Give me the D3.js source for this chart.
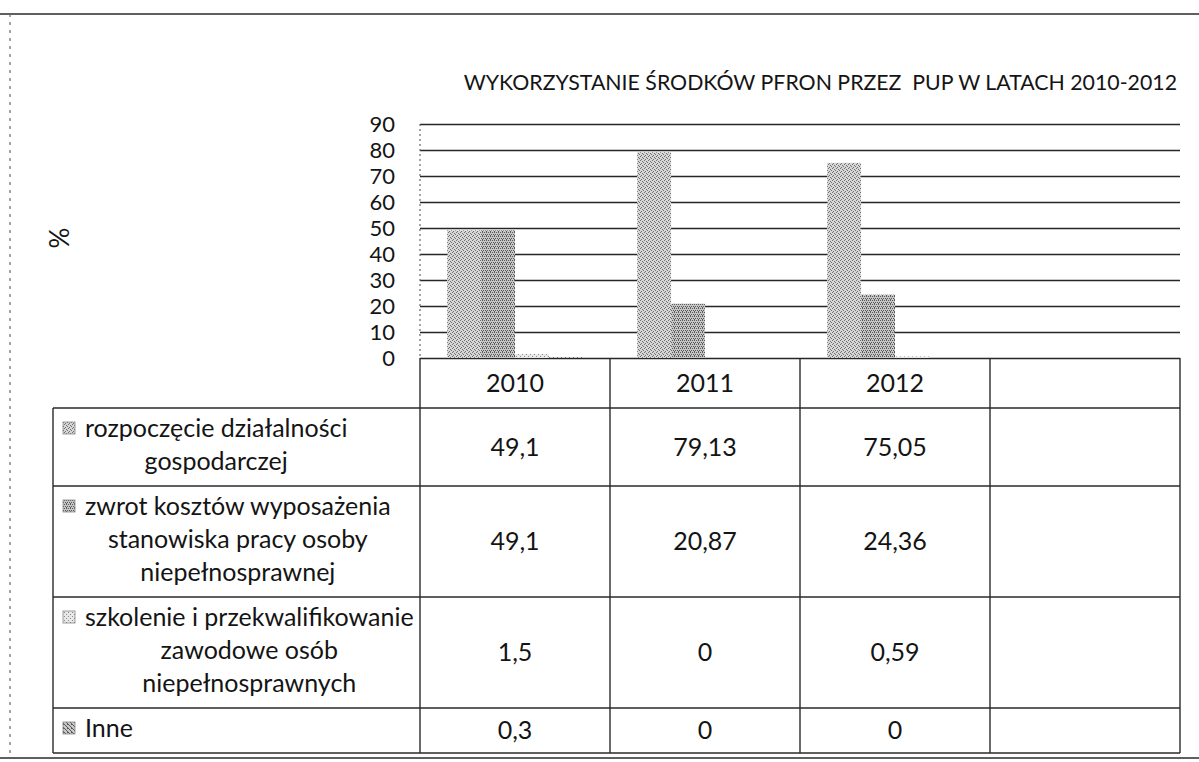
<!DOCTYPE html>
<html lang="pl">
<head>
<meta charset="utf-8">
<title>Wykorzystanie środków PFRON przez PUP w latach 2010-2012</title>
<script src="https://cdn.jsdelivr.net/npm/d3@7"></script>
<style>
  html, body { margin: 0; padding: 0; background: #fff; }
  svg { display: block; font-family: Lato, "Open Sans", sans-serif; }
  text { fill: #141414; }
  .grid line { stroke: #262626; stroke-width: 1.6; }
  .grid .domain { display: none; }
  .rule { stroke: #2a2a2a; stroke-width: 1.4; fill: none; }
  .frame { stroke: #6a6a6a; stroke-width: 1.2; fill: none; }
</style>
</head>
<body>
<svg id="chart" width="1199" height="762"></svg>
<script>
"use strict";

// chart data
const years = ["2010", "2011", "2012", ""];
const seriesLabels = [
  ["rozpoczęcie działalności", "gospodarczej"],
  ["zwrot kosztów wyposażenia", "stanowiska pracy osoby", "niepełnosprawnej"],
  ["szkolenie i przekwalifikowanie", "zawodowe osób", "niepełnosprawnych"],
  ["Inne"]
];
const startBusiness   = [49.1, 79.13, 75.05];
const equipmentRefund = [49.1, 20.87, 24.36];
const training        = [1.5, 0, 0.59];
const other           = [0.3, 0, 0];
const yTicks = [0, 10, 20, 30, 40, 50, 60, 70, 80, 90];
const chartTitle = "WYKORZYSTANIE ŚRODKÓW PFRON PRZEZ  PUP W LATACH 2010-2012";
const axisTitle = "%";

const seriesValues = [startBusiness, equipmentRefund, training, other];

// global application variable
var App = App || {};

App.plot  = { left: 420, right: 1180, top: 124, bottom: 358 };
App.table = { left: 53, keyX: 63, textX: 85, lineH: 33, pad: 12, headH: 50 };
App.fontSize = "25px";

App.svg = d3.select("#chart");

App.x = d3.scaleBand().domain(years).range([App.plot.left, App.plot.right]);
App.xs = d3.scaleBand().domain(d3.range(seriesValues.length))
    .range([0, App.x.bandwidth()]).paddingOuter(0.8);
App.y = d3.scaleLinear().domain([0, 90]).range([App.plot.bottom, App.plot.top]);

/* Stippled fills that stand in for the scanned bar textures */
function make_patterns() {
  const styles = [
    { bg: "#d6d6d6", fg: "#707070", dots: [[0,0],[2,1],[1,3],[3,2]] },
    { bg: "#c6c6c6", fg: "#5a5a5a", dots: [[0,0],[2,0],[1,2],[3,2],[2,3]] },
    { bg: "#e8e8e8", fg: "#8a8a8a", dots: [[0,0],[2,2]] },
    { bg: "#c8c8c8", fg: "#5a5a5a", dots: [[0,0],[1,1],[2,2],[3,3],[3,0]] }
  ];
  const defs = App.svg.append("defs");
  styles.forEach((s, i) => {
    let p = defs.append("pattern")
        .attr("id", "fill" + i)
        .attr("patternUnits", "userSpaceOnUse")
        .attr("width", 4).attr("height", 4);
    p.append("rect").attr("width", 4).attr("height", 4).attr("fill", s.bg);
    p.selectAll("rect.dot").data(s.dots).enter().append("rect")
        .attr("class", "dot")
        .attr("x", d => d[0]).attr("y", d => d[1])
        .attr("width", 1).attr("height", 1)
        .attr("fill", s.fg);
  });
}

/* Frame of the scanned page */
function render_frame() {
  App.svg.append("line").attr("class", "rule")
      .attr("x1", 0).attr("x2", 1199).attr("y1", 14).attr("y2", 14);
  App.svg.append("line").attr("class", "frame")
      .style("stroke-dasharray", "3 5")
      .attr("x1", 10).attr("x2", 10).attr("y1", 14).attr("y2", 758);
  App.svg.append("line").attr("class", "rule")
      .attr("x1", 0).attr("x2", 1199).attr("y1", 758).attr("y2", 758);
}

/* Gridlines and value axis */
function render_axes() {
  App.svg.append("g")
      .attr("class", "grid")
      .attr("transform", `translate(${App.plot.left},0)`)
      .call(d3.axisLeft(App.y).tickValues(yTicks)
          .tickSize(-(App.plot.right - App.plot.left)).tickFormat(""));

  App.svg.append("line").attr("class", "frame")
      .style("stroke-dasharray", "2 3")
      .attr("x1", App.plot.left).attr("x2", App.plot.left)
      .attr("y1", App.plot.top).attr("y2", App.plot.bottom);

  let axis = App.svg.append("g")
      .attr("transform", `translate(${App.plot.left},0)`)
      .call(d3.axisLeft(App.y).tickValues(yTicks).tickSize(0).tickPadding(25));
  axis.select(".domain").remove();
  axis.selectAll("text")
      .style("font-family", "Lato, sans-serif")
      .style("font-size", "22px")
      .attr("fill", "#141414");

  App.svg.append("text")
      .attr("transform", "translate(60,238) rotate(-90)")
      .attr("text-anchor", "middle")
      .attr("dy", "0.35em")
      .style("font-size", "26px")
      .text(axisTitle);

  App.svg.append("text")
      .attr("x", 1177).attr("y", 83)
      .attr("dy", "0.35em")
      .attr("text-anchor", "end")
      .style("white-space", "pre")
      .style("font-size", "21.3px")
      .text(chartTitle);
}

/* Grouped bars, one group per year */
function render_bars() {
  let groups = App.svg.append("g").attr("class", "bars")
      .selectAll("g")
      .data(seriesValues)
      .enter().append("g")
      .attr("fill", (d, i) => "url(#fill" + i + ")");

  groups.each(function(values, s) {
    d3.select(this).selectAll("rect")
        .data(values)
        .enter().append("rect")
        .attr("x", (d, i) => App.x(years[i]) + App.xs(s))
        .attr("width", App.xs.bandwidth())
        .attr("y", d => App.y(d))
        .attr("height", d => App.y(0) - App.y(d));
  });
}

/* Data table under the plot with legend keys */
function render_table() {
  const t = App.table;
  let rowTops = [App.plot.bottom + t.headH];
  seriesLabels.forEach(lines => {
    rowTops.push(rowTops[rowTops.length - 1] + lines.length * t.lineH + t.pad);
  });
  const bottom = rowTops[rowTops.length - 1];

  let rules = App.svg.append("g").attr("class", "table-rules");
  rowTops.forEach(yy => {
    rules.append("line").attr("class", "rule")
        .attr("x1", t.left).attr("x2", App.plot.right)
        .attr("y1", yy).attr("y2", yy);
  });
  rules.append("line").attr("class", "rule")
      .attr("x1", t.left).attr("x2", t.left)
      .attr("y1", rowTops[0]).attr("y2", bottom);
  years.forEach(yr => {
    rules.append("line").attr("class", "rule")
        .attr("x1", App.x(yr)).attr("x2", App.x(yr))
        .attr("y1", App.plot.bottom).attr("y2", bottom);
  });
  rules.append("line").attr("class", "rule")
      .attr("x1", App.plot.right).attr("x2", App.plot.right)
      .attr("y1", App.plot.bottom).attr("y2", bottom);

  // year header
  App.svg.append("g").selectAll("text")
      .data(years)
      .enter().append("text")
      .attr("x", d => App.x(d) + App.x.bandwidth() / 2)
      .attr("y", (App.plot.bottom + rowTops[0]) / 2)
      .attr("dy", "0.35em")
      .attr("text-anchor", "middle")
      .style("font-size", App.fontSize)
      .text(d => d);

  // row labels, centred as one block after the legend key
  seriesLabels.forEach((lines, s) => {
    let top = rowTops[s];
    App.svg.append("rect")
        .attr("x", t.keyX).attr("y", top + 20 - 6)
        .attr("width", 12).attr("height", 12)
        .attr("fill", "url(#fill" + s + ")")
        .attr("stroke", "#888").attr("stroke-width", 0.8);

    let label = App.svg.append("text")
        .style("font-size", App.fontSize)
        .attr("text-anchor", "middle");
    let spans = label.selectAll("tspan")
        .data(lines)
        .enter().append("tspan")
        .attr("y", (d, i) => top + 20 + i * t.lineH)
        .attr("dy", "0.35em")
        .text(d => d);
    let widest = d3.max(spans.nodes(), n => n.getComputedTextLength());
    spans.attr("x", t.textX + widest / 2);

    // values per year
    App.svg.append("g").selectAll("text")
        .data(seriesValues[s])
        .enter().append("text")
        .attr("x", (d, i) => App.x(years[i]) + App.x.bandwidth() / 2)
        .attr("y", (top + rowTops[s + 1]) / 2)
        .attr("dy", "0.35em")
        .attr("text-anchor", "middle")
        .style("font-size", App.fontSize)
        .text(d => String(d).replace(".", ","));
  });
}

make_patterns();
render_frame();
render_axes();
render_bars();
render_table();
</script>
</body>
</html>
